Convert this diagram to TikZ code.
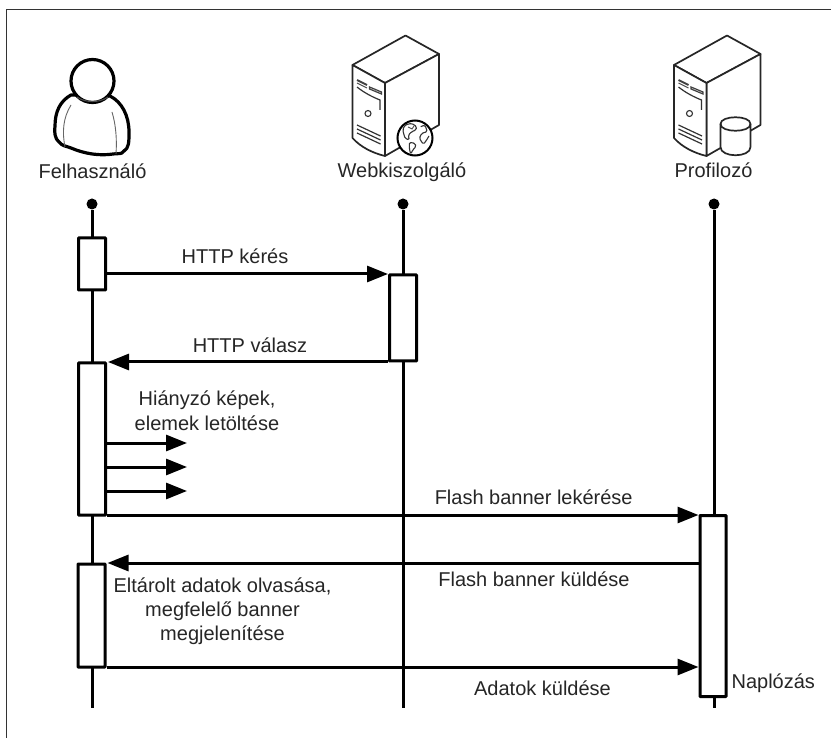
\documentclass[tikz,border=0pt]{standalone}
\usepackage{fontspec}
\setmainfont{Liberation Sans}
\usetikzlibrary{arrows.meta}
\tikzset{
  lifeline/.style={line width=3pt,black},
  dotnode/.style={circle,fill=black,inner sep=0pt,minimum size=11pt},
  actbox/.style={draw=black,fill=white,line width=3pt,inner sep=0pt,rounded corners=0.6pt,minimum width=27pt},
  msg/.style={line width=3pt,black,-{Triangle[length=21pt,width=16pt]}},
  lbl/.style={font=\fontsize{20}{24}\selectfont,text=black!85,inner sep=0pt,align=center,anchor=base},
  thin outline/.style={line width=1.7pt,black!85,line join=round},
  frameline/.style={line width=1.4pt,black!80},
  continent/.style={line width=1.1pt,black!80,line join=round,rounded corners=1.5pt},
}
\newcommand{\serverbody}{%
  \draw[thin outline,fill=white] (0,0) -- (32.5,18) -- (86.5,-11) -- (53,-29.5) -- cycle;
  \draw[thin outline,fill=white] (32.5,18) -- (86.5,-11) -- (86.5,60) -- (32.5,91) -- cycle;
  \draw[thin outline,fill=white] (0,0) -- (32.5,18) -- (32.5,91) .. controls (20,88) and (8,82) .. (0,73) -- cycle;
  \draw[line width=1.8pt,black!75] (4.5,15) -- (14.5,20);
  \draw[line width=1pt,black!70] (4.5,18) -- (14.5,23);
  \draw[line width=1.2pt,black!75] (17,22) -- (29,27) -- (29,29) -- (17,24) -- cycle;
  \draw[line width=1.2pt,black!80] (4.5,22) .. controls (12,28) and (20,32) .. (27.5,35) -- (27.5,45);
  \draw[line width=1.1pt,black!80] (15.5,48.5) circle (3pt);
  \draw[line width=1.2pt,black!80] (4.5,60) -- (28,71);
  \draw[line width=1.2pt,black!80] (4.5,64) -- (28,75);
  \draw[line width=1.2pt,black!80] (4.5,68) -- (28,79);
}
\begin{document}
\begin{tikzpicture}[x=1pt,y=-1pt]
\useasboundingbox (0,0) rectangle (831,738);
\fill[white] (0,0) rectangle (831,738);
% frame
\coordinate (fa) at (6.5,738);
\coordinate (fb) at (6.5,9.5);
\coordinate (fc) at (831,9.5);
\draw[frameline] (fa) -- (fb) -- (fc);

% user icon
\draw[line width=3.2pt,black,fill=white,line join=round]
  (71,95) .. controls (60,101) and (55,112) .. (55,126)
  .. controls (54,132) and (55,139) .. (59,142)
  .. controls (62,146) and (66,146) .. (71,148)
  .. controls (85,154) and (100,156) .. (113,154)
  .. controls (119,153) and (121,155) .. (124,151)
  .. controls (129,148) and (129,142) .. (129,132)
  .. controls (129,116) and (122,102) .. (110,96) -- cycle;
\draw[line width=.9pt,black!60] (71,105) .. controls (63,118) and (62,132) .. (65,147);
\draw[line width=.9pt,black!60] (112,112) .. controls (116,125) and (117,140) .. (116,154);
\draw[line width=3.2pt,black,fill=white] (92.5,81) circle (21.5pt);
\draw[line width=1.1pt,black!70] (77,97) .. controls (85,103) and (100,103) .. (108,97);

% web server icon
\begin{scope}[shift={(352.5,65)}]
  \serverbody
\end{scope}
\draw[line width=2pt,black,fill=white] (415,138) circle (17.5pt);
\draw[continent] (402.7,130) -- (405,125) -- (411.7,123.3) -- (416.7,126.7) -- (416,130) -- (411.7,131.7) -- (408.3,135) -- (409.3,140) -- (405,138.3) -- cycle;
\draw[continent] (409.3,142.3) -- (415,143.3) -- (416,146.7) -- (412.7,150) -- (410.7,154.3) -- (409.3,148.3) -- cycle;
\draw[continent] (420.7,126.7) -- (425,125) -- (427.3,131.7) -- (421.7,133.3) -- (419.3,138.3) -- (423.3,144.3) -- (426,141) -- (429,136);
\draw[line width=.9pt,black!70] (408,127) -- (412,129) -- (414,126);

% profiler server icon
\begin{scope}[shift={(674,65)}]
  \serverbody
\end{scope}
\draw[line width=1.7pt,black!85,fill=white]
  (720.5,124) .. controls (720.5,115) and (750.5,115) .. (750.5,124)
  -- (750.5,147) .. controls (750.5,158) and (720.5,158) .. (720.5,147) -- cycle;
\draw[line width=1.7pt,black!85] (720.5,124) .. controls (720.5,133) and (750.5,133) .. (750.5,124);

% actor labels
\node[lbl] (uname) at (92.5,179) {Felhasználó};
\node[lbl] (wname) at (402,178) {Webkiszolgáló};
\node[lbl] (pname) at (713.5,178) {Profilozó};

% lifelines
\node[dotnode] (ud) at (92,204) {};
\node[dotnode] (wd) at (403,204) {};
\node[dotnode] (pd) at (714,204) {};
\coordinate (ue) at (92,708);
\coordinate (we) at (403,708);
\coordinate (pe) at (714,708);
\draw[lifeline] (ud) -- (ue);
\draw[lifeline] (wd) -- (we);
\draw[lifeline] (pd) -- (pe);

% activation boxes
\node[actbox,minimum height=52pt] (a1) at (92,264) {};
\node[actbox,minimum height=86pt] (w1) at (403,318) {};
\node[actbox,minimum height=152pt] (a2) at (92,439) {};
\node[actbox,minimum height=103pt] (a3) at (91.5,615.5) {};
\node[actbox,minimum width=26pt,minimum height=181pt] (p1) at (713,606) {};

% messages
\draw[msg] (a1.east |- 0,274) -- (w1.west |- 0,274);
\draw[msg] (w1.west |- 0,362) -- ([xshift=1pt]a2.east |- 0,362);
\coordinate (s1) at (187,443);
\coordinate (s2) at (187,467);
\coordinate (s3) at (187,491);
\draw[msg] (a2.east |- s1) -- (s1);
\draw[msg] (a2.east |- s2) -- (s2);
\draw[msg] (a2.east |- s3) -- (s3);
\draw[msg] (a2.east |- 0,515) -- (p1.west |- 0,515);
\draw[msg] (p1.west |- 0,563) -- ([xshift=1pt]a3.east |- 0,563);
\draw[msg] (a3.east |- 0,667) -- (p1.west |- 0,667);

% message labels
\node[lbl] (m1) at (235,264) {HTTP kérés};
\node[lbl] (m2) at (250,352.7) {HTTP válasz};
\node[lbl] (m3a) at (207,406) {Hiányzó képek,};
\node[lbl] (m3b) at (207,430) {elemek letöltése};
\node[lbl] (m4) at (533.7,504) {Flash banner lekérése};
\node[lbl] (m5) at (534,586) {Flash banner küldése};
\node[lbl] (m6a) at (222.5,592.7) {Eltárolt adatok olvasása,};
\node[lbl] (m6b) at (222.5,616.7) {megfelelő banner};
\node[lbl] (m6c) at (222.5,640.7) {megjelenítése};
\node[lbl] (m7) at (542.5,695) {Adatok küldése};
\node[lbl] (m8) at (773.3,688) {Naplózás};
\end{tikzpicture}
\end{document}
